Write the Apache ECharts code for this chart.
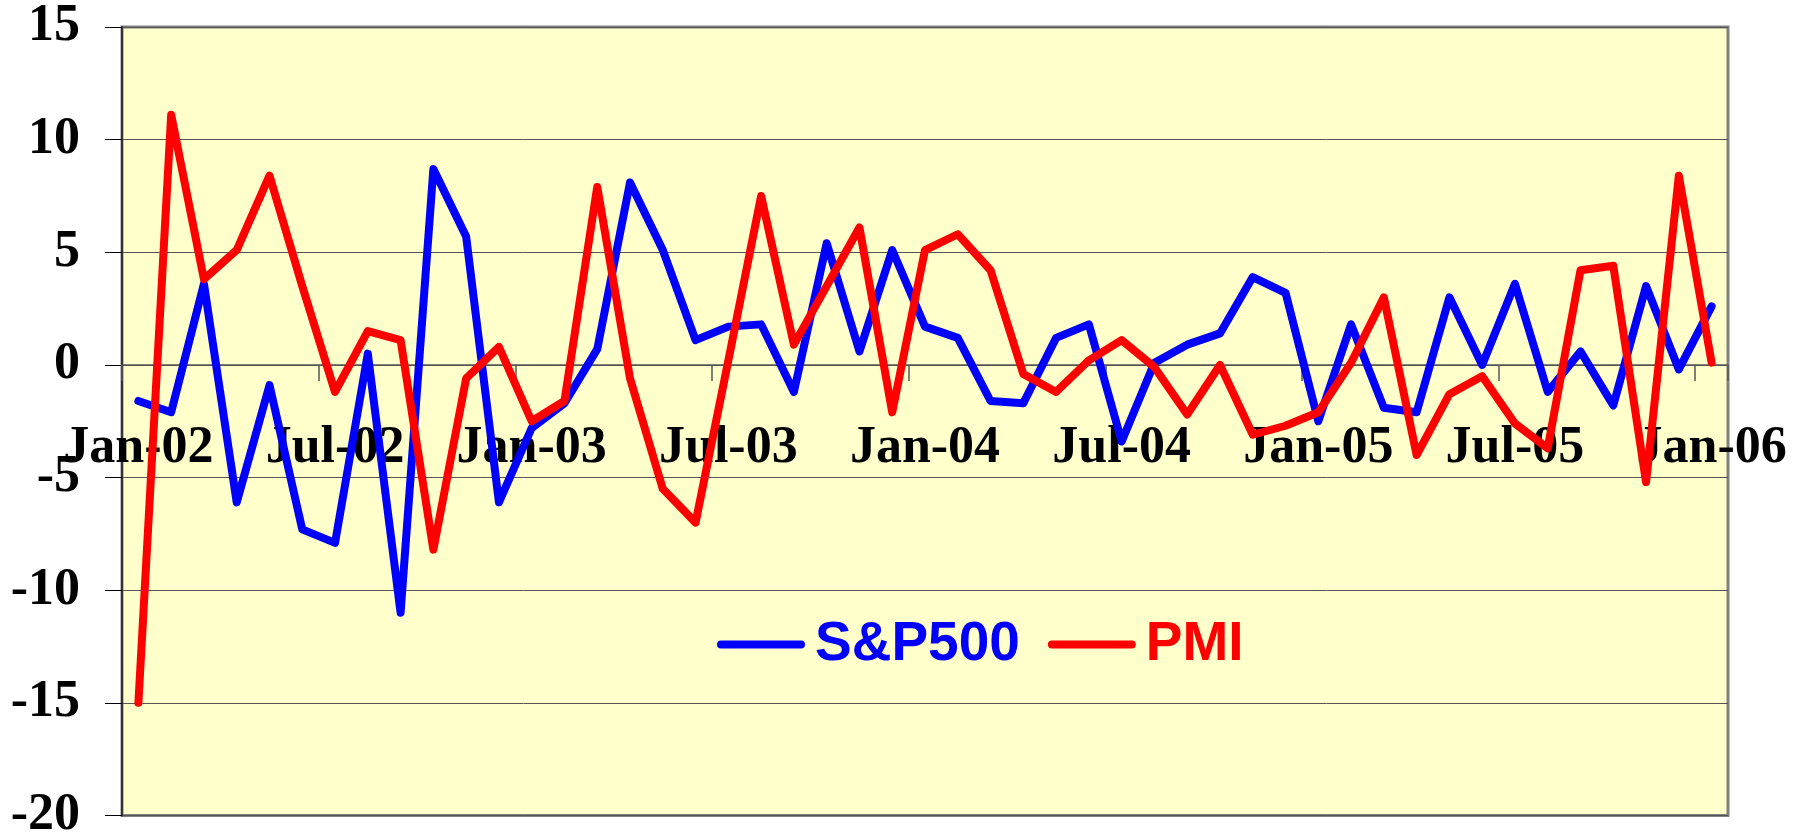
<!DOCTYPE html>
<html>
<head>
<meta charset="utf-8">
<style>
  html, body { margin: 0; padding: 0; background: #ffffff; }
  #chart { width: 1811px; height: 837px; }
</style>
<script src="https://cdn.jsdelivr.net/npm/echarts@6/dist/echarts.min.js"></script>
</head>
<body>
<div id="chart"></div>
<script>
// Monthly categories, Jan-02 .. Jan-06
var categories = [
  'Jan-02','Feb-02','Mar-02','Apr-02','May-02','Jun-02','Jul-02','Aug-02','Sep-02','Oct-02','Nov-02','Dec-02',
  'Jan-03','Feb-03','Mar-03','Apr-03','May-03','Jun-03','Jul-03','Aug-03','Sep-03','Oct-03','Nov-03','Dec-03',
  'Jan-04','Feb-04','Mar-04','Apr-04','May-04','Jun-04','Jul-04','Aug-04','Sep-04','Oct-04','Nov-04','Dec-04',
  'Jan-05','Feb-05','Mar-05','Apr-05','May-05','Jun-05','Jul-05','Aug-05','Sep-05','Oct-05','Nov-05','Dec-05',
  'Jan-06'
];

var sp500 = [
  -1.6, -2.1, 3.6, -6.1, -0.9, -7.3, -7.9, 0.5, -11.0, 8.7, 5.7, -6.1,
  -2.8, -1.7, 0.7, 8.1, 5.1, 1.1, 1.7, 1.8, -1.2, 5.4, 0.6, 5.1,
  1.7, 1.2, -1.6, -1.7, 1.2, 1.8, -3.4, 0.1, 0.9, 1.4, 3.9, 3.2,
  -2.5, 1.8, -1.9, -2.1, 3.0, 0.0, 3.6, -1.2, 0.6, -1.8, 3.5, -0.2,
  2.6
];

var pmi = [
  -15.0, 11.1, 3.8, 5.1, 8.4, 3.5, -1.2, 1.5, 1.1, -8.2, -0.6, 0.8,
  -2.5, -1.6, 7.9, -0.6, -5.5, -7.0, 0.2, 7.5, 0.9, 3.5, 6.1, -2.1,
  5.1, 5.8, 4.2, -0.4, -1.2, 0.2, 1.1, -0.1, -2.2, 0.0, -3.1, -2.7,
  -2.1, 0.1, 3.0, -4.0, -1.3, -0.5, -2.6, -3.7, 4.2, 4.4, -5.2, 8.4,
  0.1
];

var seriesNames = ['S&P500', 'PMI'];
var seriesColors = ['#0000FF', '#FF0000'];

var chart = echarts.init(document.getElementById('chart'), null, { renderer: 'canvas' });

var labelFont = {
  fontFamily: 'Liberation Serif, "Times New Roman", serif',
  fontWeight: 'bold',
  fontSize: 52,
  color: '#000000'
};

var GRID_TOP = 27, GRID_BOTTOM = 21.5;
var Y_MIN = -20, Y_MAX = 15;
var plotH = 837 - GRID_TOP - GRID_BOTTOM;
// distance from the bottom edge up to the value 0 line
var zeroOffset = -plotH * (0 - Y_MIN) / (Y_MAX - Y_MIN);

chart.setOption({
  animation: false,
  backgroundColor: '#ffffff',
  grid: {
    left: 122, right: 83, top: GRID_TOP, bottom: GRID_BOTTOM,
    outerBoundsMode: 'none',
    containLabel: false,
    show: true,
    backgroundColor: '#FFFFCC',
    borderColor: '#808080',
    borderWidth: 3
  },
  legend: {
    left: 712,
    top: 612,
    orient: 'horizontal',
    itemWidth: 80,
    itemHeight: 20,
    itemGap: 28,
    itemStyle: { opacity: 0 },
    lineStyle: { width: 8, cap: 'round' },
    textStyle: {
      fontFamily: 'Liberation Sans, Arial, sans-serif',
      fontWeight: 'bold',
      fontSize: 55,
      padding: [0, 0, 0, 9]
    },
    data: [
      { name: seriesNames[0], textStyle: { color: seriesColors[0] } },
      { name: seriesNames[1], textStyle: { color: seriesColors[1] } }
    ]
  },
  xAxis: {
    type: 'category',
    data: categories,
    boundaryGap: true,
    position: 'bottom',
    offset: zeroOffset,
    axisLine: { onZero: false, lineStyle: { color: '#555555', width: 1.5 } },
    axisTick: { show: true, interval: 5, alignWithLabel: false, length: 16, lineStyle: { color: '#555555', width: 1.5 } },
    axisLabel: Object.assign({ interval: 5, margin: 58, hideOverlap: false }, labelFont),
    splitLine: { show: false }
  },
  yAxis: {
    type: 'value',
    min: Y_MIN,
    max: Y_MAX,
    interval: 5,
    axisLine: { show: true, onZero: false, lineStyle: { color: '#333333', width: 2 } },
    axisTick: { show: true, length: 17, lineStyle: { color: '#000000', width: 1 } },
    axisLabel: Object.assign({ margin: 42 }, labelFont),
    splitLine: { show: true, lineStyle: { color: '#555555', width: 1 } }
  },
  series: [
    {
      name: seriesNames[0],
      type: 'line',
      data: sp500,
      symbol: 'none',
      color: seriesColors[0],
      lineStyle: { color: seriesColors[0], width: 8, join: 'round', cap: 'round' },
      z: 3
    },
    {
      name: seriesNames[1],
      type: 'line',
      data: pmi,
      symbol: 'none',
      color: seriesColors[1],
      lineStyle: { color: seriesColors[1], width: 8, join: 'round', cap: 'round' },
      z: 4
    }
  ]
});
</script>
</body>
</html>
